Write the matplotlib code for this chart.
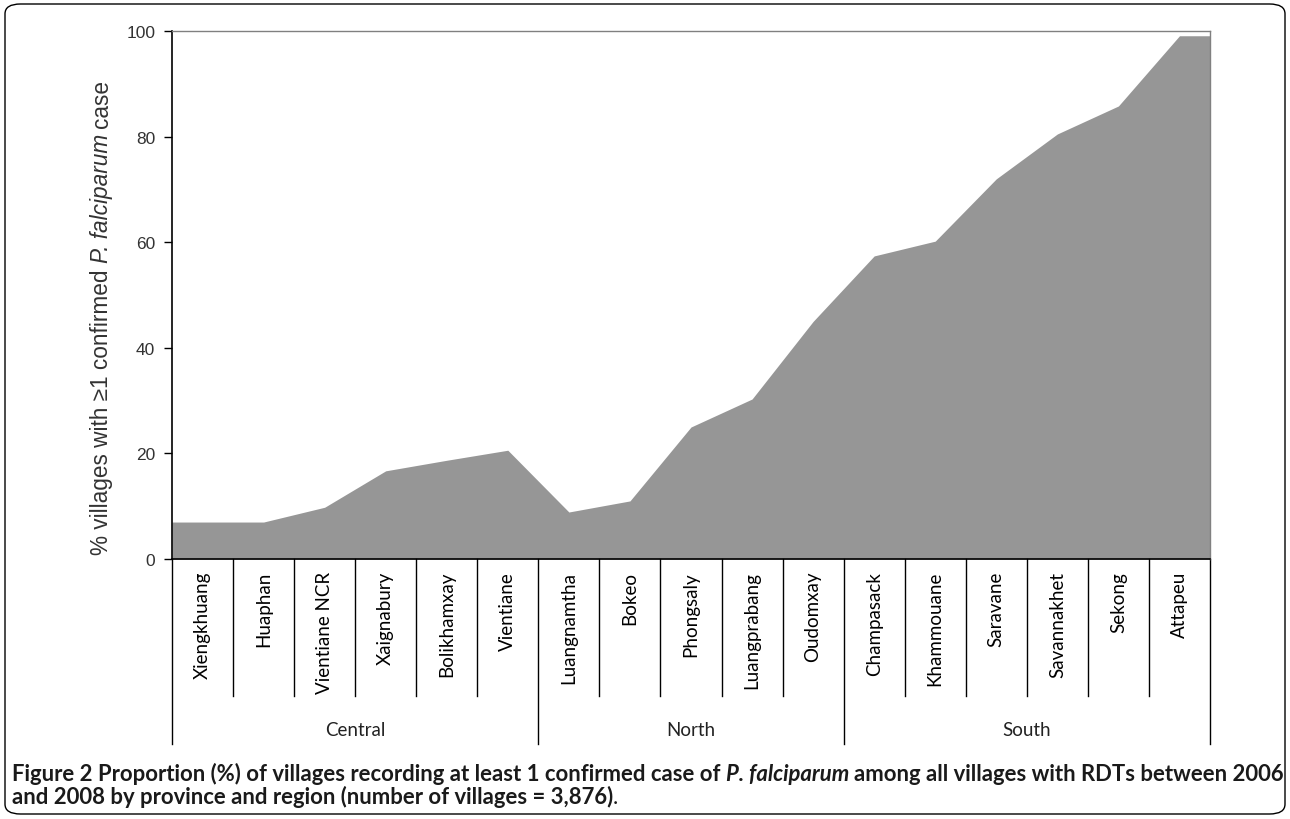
import matplotlib
matplotlib.use("Agg")
import matplotlib.pyplot as plt
from matplotlib.patches import FancyBboxPatch
from matplotlib.transforms import blended_transform_factory

# values
provinces = ["Xiengkhuang", "Huaphan", "Vientiane NCR", "Xaignabury", "Bolikhamxay", "Vientiane",
             "Luangnamtha", "Bokeo", "Phongsaly", "Luangprabang", "Oudomxay",
             "Champasack", "Khammouane", "Saravane", "Savannakhet", "Sekong", "Attapeu"]
percent = [7.0, 7.0, 9.8, 16.7, 18.7, 20.6,
           8.9, 11.0, 25.0, 30.3, 45.0,
           57.4, 60.2, 72.0, 80.5, 85.8, 99.1]
regions = ["Central", "North", "South"]
region_sizes = [6, 5, 6]

W, H = 1290, 820
fig = plt.figure(figsize=(W / 100, H / 100), dpi=100)
renderer = fig.canvas.get_renderer()
ax = fig.add_axes([172 / W, (H - 560) / H, (1210 - 172) / W, (560 - 32) / H])


def draw_runs(x, y, runs, size, rotation=0, draw=True):
    # lay out pieces of text with different styles one after another (pixel coords)
    pos = 0.0
    made = []
    for txt, kw in runs:
        if txt == " ":
            a = fig.text(0, 0, "x x", fontsize=size, **kw)
            b = fig.text(0, 0, "xx", fontsize=size, **kw)
            pos += a.get_window_extent(renderer).width - b.get_window_extent(renderer).width
            a.remove()
            b.remove()
            continue
        if rotation == 0:
            px, py = x + pos, y
        else:
            px, py = x, y - pos
        t = fig.text(px / W, 1 - py / H, txt, fontsize=size, rotation=rotation,
                     rotation_mode="anchor", ha="left", va="baseline", **kw)
        bb = t.get_window_extent(renderer)
        pos += bb.width if rotation == 0 else bb.height
        made.append(t)
    if not draw:
        for t in made:
            t.remove()
    return pos


def fit_runs(x, y, runs, length, size0, rotation=0):
    w = draw_runs(x, y, runs, size0, rotation, draw=False)
    draw_runs(x, y, runs, size0 * length / w, rotation)


n = len(provinces)
centers = [i + 0.5 for i in range(n)]
xs = [0] + centers + [n]
ys = [percent[0]] + percent + [percent[-1]]
ax.fill_between(xs, 0, ys, color="#969696", linewidth=0)

ax.set_xlim(0, n)
ax.set_ylim(0, 100)
ax.set_xticks([])
ax.set_yticks([0, 20, 40, 60, 80, 100])
ax.tick_params(axis="y", direction="out", length=6, width=1, colors="black",
               labelsize=12.5, labelcolor="#333333", pad=6)
for lab in ax.get_yticklabels():
    lab.set_fontfamily("Liberation Sans")

for side in ["left", "bottom"]:
    ax.spines[side].set_color("black")
    ax.spines[side].set_linewidth(1.2)
for side in ["top", "right"]:
    ax.spines[side].set_color("#808080")
    ax.spines[side].set_linewidth(1.0)

# y axis title, drawn in pieces so the species name can be italic
lab_reg = dict(family="Liberation Sans", color="#333333")
lab_it = dict(family="Liberation Sans", color="#333333", style="italic")
ylabel_runs = [("% villages with \u22651 confirmed", lab_reg), (" ", lab_reg),
               ("P. falciparum", lab_it), (" ", lab_reg), ("case", lab_reg)]
fit_runs(108, 555, ylabel_runs, 473, 13, rotation=90)

trans = blended_transform_factory(ax.transData, ax.transAxes)
prov_bottom = -(697 - 560) / 528
reg_bottom = -(745 - 560) / 528

# province separators and labels
region_edges = [0]
for s in region_sizes:
    region_edges.append(region_edges[-1] + s)
for i in range(n + 1):
    y0 = reg_bottom if i in region_edges else prov_bottom
    ax.plot([i, i], [0, y0], color="black", linewidth=1, transform=trans, clip_on=False)
for i, name in enumerate(provinces):
    ax.text(i + 0.5, -(572 - 560) / 528, name, rotation=90, ha="center", va="top",
            fontsize=13.5, family="Lato", color="black", transform=trans)

# region labels
for r, name in enumerate(regions):
    mid = (region_edges[r] + region_edges[r + 1]) / 2
    ax.text(mid, -(730 - 560) / 528, name, ha="center", va="center",
            fontsize=13.5, family="Lato", color="#222222", transform=trans)

# caption
cap_b = dict(family="Lato", weight="bold", color="#1a1a1a")
cap_bi = dict(family="Lato", weight="bold", style="italic", color="#1a1a1a")
cap_n = dict(family="Lato", weight="normal", color="#1a1a1a")
line1 = [("Figure 2", cap_b), (" ", cap_b),
         ("Proportion (%) of villages recording at least 1 confirmed case of", cap_b), (" ", cap_b),
         ("P. falciparum", cap_bi), (" ", cap_b),
         ("among all villages with RDTs between 2006", cap_b)]
line2 = [("and 2008 by province and region (number of villages = 3,876)", cap_b), (".", cap_n)]
w1 = draw_runs(12, 781, line1, 12, draw=False)
cap_size = 12 * 1265 / w1
draw_runs(12, 781, line1, cap_size)
draw_runs(12, 804, line2, cap_size)

# rounded outer frame
frame = FancyBboxPatch((5 / W, 5 / H), (W - 10) / W, (H - 10) / H,
                       boxstyle="round,pad=0,rounding_size=0.012",
                       transform=fig.transFigure, fill=False, edgecolor="black", linewidth=1)
fig.patches.append(frame)

fig.savefig("out.png", dpi=100)
